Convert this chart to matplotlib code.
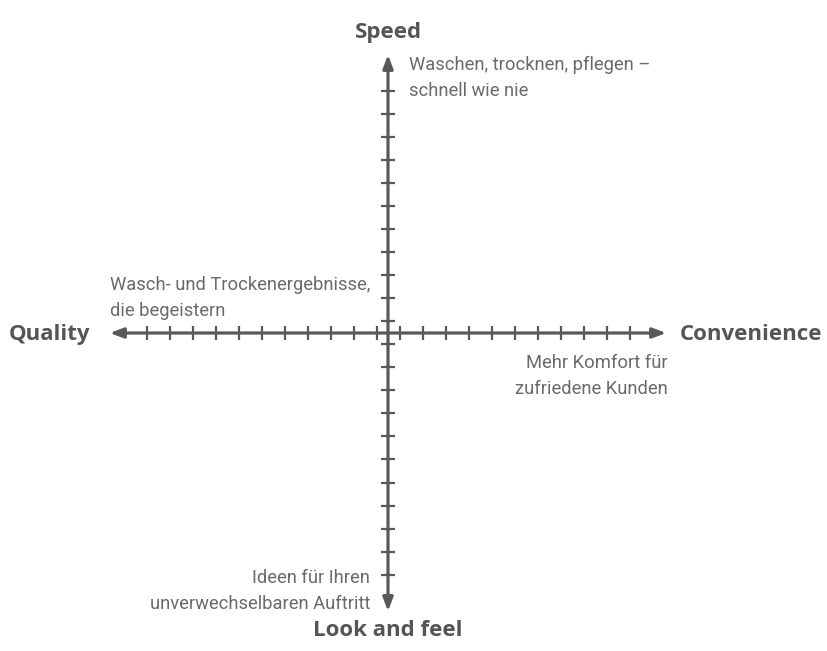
import numpy as np
import matplotlib
matplotlib.use("Agg")
import matplotlib.pyplot as plt

# ---- data ----
axis_labels = ["Speed", "Convenience", "Look and feel", "Quality"]
descriptions = [
    "Waschen, trocknen, pflegen –\nschnell wie nie",
    "Mehr Komfort für\nzufriedene Kunden",
    "Ideen für Ihren\nunverwechselbaren Auftritt",
    "Wasch- und Trockenergebnisse,\ndie begeistern",
]
n_ticks = 11          # ticks per half-axis
tick_offset = 0.5     # first tick half a step from the origin
arrow_len = 12.1      # half-axis length in tick units

AX_COL = "#595959"
TXT_COL = "#6a6a6a"
LBL_COL = "#555555"

plt.rcParams["font.family"] = ["Roboto", "DejaVu Sans"]

W, H, DPI = 827, 651, 100
fig = plt.figure(figsize=(W / DPI, H / DPI), dpi=DPI)
ax = fig.add_axes([0, 0, 1, 1])
unit = 23.0  # px per tick step
cx, cy = 388, 333
ax.set_xlim(-cx / unit, (W - cx) / unit)
ax.set_ylim(-(H - cy) / unit, cy / unit)
ax.axis("off")

# ---- axes with arrowheads ----
for dx, dy in [(1, 0), (-1, 0), (0, 1), (0, -1)]:
    ax.annotate("", xy=(dx * arrow_len, dy * arrow_len), xytext=(0, 0),
                arrowprops=dict(arrowstyle="-|>,head_length=0.8,head_width=0.3",
                                color=AX_COL, lw=2.3, shrinkA=0, shrinkB=0))

# ---- tick marks ----
pos = np.arange(n_ticks) + tick_offset
tpos = np.concatenate([-pos[::-1], pos])
ax.plot(tpos, np.zeros_like(tpos), ls="none", marker="|", ms=10.5, mew=1.6, color=AX_COL)
ax.plot(np.zeros_like(tpos), tpos, ls="none", marker="_", ms=10.5, mew=1.6, color=AX_COL)

# ---- axis labels ----
bold = dict(fontsize=16, fontweight="bold", color=LBL_COL, family=["Open Sans", "DejaVu Sans"])
ax.text(0, (cy - 33) / unit, axis_labels[0], ha="center", va="center", **bold)
ax.text((822 - cx) / unit, -2 / unit, axis_labels[1], ha="right", va="center", **bold)
ax.text(0, -(631 - cy) / unit, axis_labels[2], ha="center", va="center", **bold)
ax.text((90 - cx) / unit, -2 / unit, axis_labels[3], ha="right", va="center", **bold)

# ---- descriptions ----
small = dict(fontsize=13.2, color=TXT_COL, linespacing=1.55)
ax.text((409 - cx) / unit, (cy - 56) / unit, descriptions[0], ha="left", va="top", **small)
ax.text((668 - cx) / unit, -(354 - cy) / unit, descriptions[1], ha="right", va="top", **small)
ax.text((370 - cx) / unit, -(569 - cy) / unit, descriptions[2], ha="right", va="top", **small)
ax.text((110 - cx) / unit, (cy - 276) / unit, descriptions[3], ha="left", va="top", **small)

fig.savefig("out.png", dpi=DPI)
